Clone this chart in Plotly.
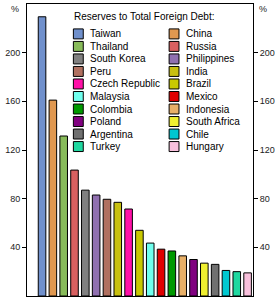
import plotly.graph_objects as go

countries = ["Taiwan", "China", "Thailand", "Russia", "South Korea", "Philippines",
             "Peru", "India", "Czech Republic", "Brazil", "Malaysia", "Mexico",
             "Colombia", "Indonesia", "Poland", "South Africa", "Argentina", "Chile",
             "Turkey", "Hungary"]
values = [229.5, 161, 131.5, 103.5, 87, 83, 79.5, 77, 71.5, 54, 43.5, 38.5,
          37, 33, 30, 27, 26, 21, 20, 19]
colors = ["#7090cc", "#e09850", "#88bb5a", "#d96060", "#808080", "#9070b0",
          "#b07060", "#c8c010", "#ff10a8", "#c8c800", "#70ffee", "#e00000",
          "#009900", "#e8b068", "#800080", "#f0f030", "#707070", "#00c8d0",
          "#20d8a0", "#f8c0dc"]
tick_vals = [40, 80, 120, 160, 200]
legend_title = "Reserves to Total Foreign Debt:"

W, H = 278, 304
L, R, T, B = 27, 22, 3, 8
PW, PH = W - L - R, H - T - B

def px(x):
    return (x - L) / PW

def py(y):
    return (H - B - y) / PH

FONT = "Liberation Sans, Arial, sans-serif"

fig = go.Figure()
fig.add_trace(go.Bar(x=countries, y=values, marker=dict(color=colors, line=dict(color="black", width=1)),
                     showlegend=False))
fig.add_trace(go.Scatter(x=[countries[0]], y=[0], yaxis="y2", mode="markers",
                         marker=dict(opacity=0), showlegend=False, hoverinfo="skip"))

shapes = []
annotations = []
annotations.append(dict(x=px(73), y=py(16), xref="paper", yref="paper", text=legend_title,
                        showarrow=False, xanchor="left", yanchor="middle",
                        font=dict(family=FONT, size=10, color="black")))
row_step = 12.56
for i, (name, col) in enumerate(zip(countries, colors)):
    r, c = divmod(i, 2)
    cy = 33 + r * row_step
    sx = 74 if c == 0 else 171
    shapes.append(dict(type="rect", xref="paper", yref="paper",
                       x0=px(sx), x1=px(sx + 10), y0=py(cy + 5), y1=py(cy - 5),
                       fillcolor=col, line=dict(color="black", width=1)))
    annotations.append(dict(x=px(sx + 15), y=py(cy), xref="paper", yref="paper", text=name,
                            showarrow=False, xanchor="left", yanchor="middle",
                            font=dict(family=FONT, size=10, color="black")))
annotations.append(dict(x=px(15), y=py(8), xref="paper", yref="paper", text="%", showarrow=False,
                        xanchor="center", yanchor="middle", font=dict(family=FONT, size=9, color="#222")))
annotations.append(dict(x=px(266), y=py(8), xref="paper", yref="paper", text="%", showarrow=False,
                        xanchor="center", yanchor="middle", font=dict(family=FONT, size=9, color="#222")))

yax = dict(range=[0, 240], tickvals=tick_vals, ticks="outside", ticklen=4, tickcolor="black",
           showline=True, linecolor="black", linewidth=1, showgrid=False, zeroline=False,
           tickfont=dict(family=FONT, size=9, color="#222"), fixedrange=True)
fig.update_layout(
    width=W, height=H,
    margin=dict(l=L, r=R, t=T, b=B),
    paper_bgcolor="white", plot_bgcolor="white",
    bargap=0.3,
    xaxis=dict(showticklabels=False, ticks="", showline=True, mirror=True, linecolor="black",
               linewidth=1, showgrid=False),
    yaxis=yax,
    yaxis2=dict(yax, overlaying="y", side="right", anchor="x"),
    shapes=shapes,
    annotations=annotations,
    showlegend=False,
)
fig.write_html("out.html")
